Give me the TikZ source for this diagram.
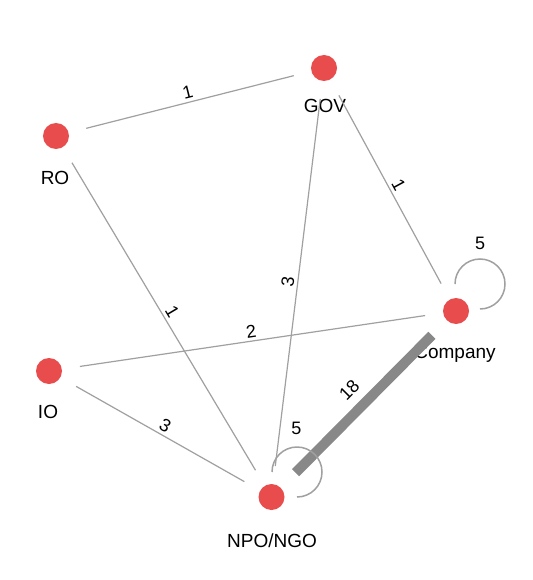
\documentclass[tikz,border=0pt]{standalone}
\usepackage{fontspec}
\setmainfont{Liberation Sans}
\definecolor{nodered}{RGB}{232,76,76}
\definecolor{edgegray}{RGB}{160,160,160}
\definecolor{thickgray}{RGB}{136,136,136}
\begin{document}
\begin{tikzpicture}[x=1pt,y=-1pt,
  vertex/.style={circle,fill=nodered,minimum size=26pt,inner sep=0pt},
  lab/.style={font=\fontsize{19}{22}\selectfont,text=black,inner sep=0pt},
  edge/.style={draw=edgegray,line width=1.2pt,shorten <=18pt,shorten >=18pt},
  thickedge/.style={draw=thickgray,line width=10pt,shorten <=21pt,shorten >=21pt},
  elab/.style={font=\fontsize{18}{20}\selectfont,sloped,above,midway,inner sep=3pt},
  loopline/.style={draw=edgegray,line width=1.5pt},
  looplab/.style={font=\fontsize{18}{20}\selectfont,inner sep=0pt}]
\useasboundingbox (0,0) rectangle (532,580);
\fill[white] (0,0) rectangle (532,580);

% nodes
\node[vertex] (ro)   at (56,136) {};
\node[vertex] (gov)  at (324,68) {};
\node[vertex] (comp) at (456,311) {};
\node[vertex] (io)   at (49,371) {};
\node[vertex] (npo)  at (271.5,497) {};

% node labels
\node[lab] (rol)   at (55,178)  {RO};
\node[lab] (govl)  at (325,106) {GOV};
\node[lab] (compl) at (455,354) {Company};
\node[lab] (iol)   at (48,412)  {IO};
\node[lab] (npol)  at (272,541) {NPO/NGO};

% edges
\draw[edge] (ro) -- node[elab] {1} (gov);
\draw[edge] (gov) -- node[elab] {1} (comp);
\draw[edge] (ro) -- node[elab] {1} (npo);
\draw[edge] (gov) -- node[elab] {3} (npo);
\draw[edge] (io) -- node[elab] {2} (comp);
\draw[edge] (io) -- node[elab] {3} (npo);
\draw[thickedge] (comp) -- node[elab,above=6pt] {18} (npo);

% self loops
\draw[loopline] (comp) ++(-1,-27) arc[start angle=180,end angle=450,radius=25];
\node[looplab] (compll) at ([shift={(24,-68)}]comp.center) {5};
\draw[loopline] (npo) ++(0.5,-25) arc[start angle=180,end angle=450,radius=25];
\node[looplab] (npoll) at ([shift={(25,-69)}]npo.center) {5};
\end{tikzpicture}
\end{document}
